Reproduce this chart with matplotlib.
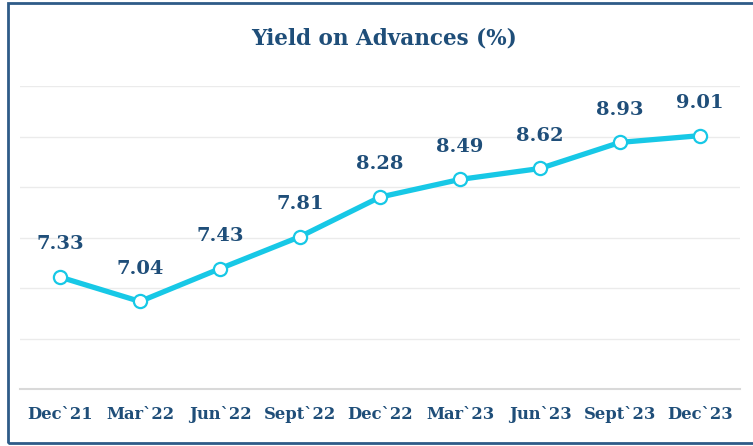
import matplotlib.pyplot as plt
from matplotlib.patches import Rectangle

quarters = ["Dec`21", "Mar`22", "Jun`22", "Sept`22", "Dec`22",
            "Mar`23", "Jun`23", "Sept`23", "Dec`23"]
yield_pct = [7.33, 7.04, 7.43, 7.81, 8.28, 8.49, 8.62, 8.93, 9.01]
y_ticks = [6.0, 6.6, 7.2, 7.8, 8.4, 9.0, 9.6]

navy = "#1F4E79"
cyan = "#17C8E6"

fig = plt.figure(figsize=(7.53, 4.46), dpi=100)

# outer frame
fig.patches.append(Rectangle((8 / 753, 3 / 446), 1.2, 440 / 446,
                             transform=fig.transFigure, fill=False,
                             edgecolor="#2E5B88", linewidth=2))

ax = fig.add_axes([20 / 753, 57 / 446, 720 / 753, 303 / 446])
x = list(range(len(quarters)))
ax.plot(x, yield_pct, color=cyan, linewidth=3.8, marker="o",
        markersize=9.5, markerfacecolor="white", markeredgecolor=cyan,
        markeredgewidth=1.6, zorder=3)

for xi, v in zip(x, yield_pct):
    ax.annotate(f"{v:.2f}", (xi, v), xytext=(0, 23.5), textcoords="offset points",
                ha="center", va="center", fontsize=14, fontweight="bold",
                color=navy, family="DejaVu Serif")

ax.set_xlim(-0.5, len(quarters) - 0.5)
ax.set_ylim(y_ticks[0], y_ticks[-1])
ax.set_yticks(y_ticks)
ax.set_yticklabels([])
ax.tick_params(axis="y", length=0)
ax.grid(axis="y", color="#EBEBEB", linewidth=1)
ax.set_xticks(x)
ax.set_xticklabels(quarters, fontsize=11.8, fontweight="bold", color=navy,
                   family="DejaVu Serif")
ax.tick_params(axis="x", length=0, pad=12)
for s in ["top", "right", "left"]:
    ax.spines[s].set_visible(False)
ax.spines["bottom"].set_color("#D9D9D9")
ax.spines["bottom"].set_linewidth(1.5)
ax.set_axisbelow(True)

fig.text(384 / 753, 1 - 39 / 446, "Yield on Advances (%)", ha="center",
         va="center", fontsize=15.5, fontweight="bold", color=navy,
         family="DejaVu Serif")

fig.savefig("out.png", dpi=100)
